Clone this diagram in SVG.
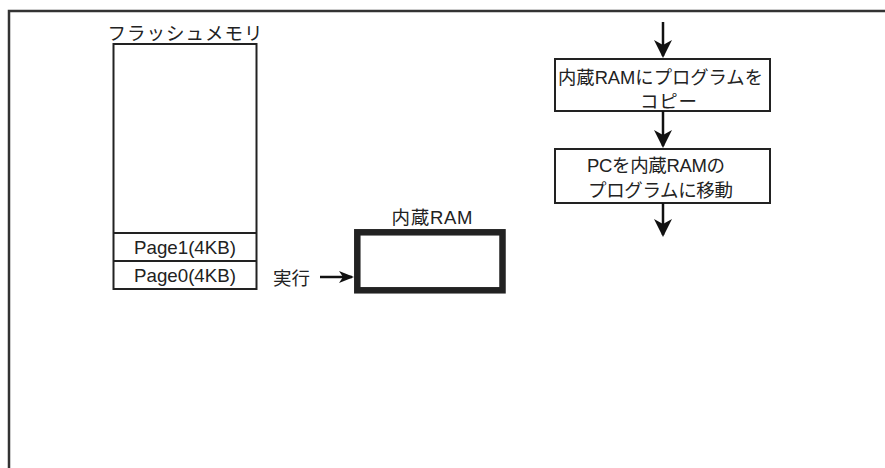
<svg xmlns="http://www.w3.org/2000/svg" width="885" height="468" viewBox="0 0 885 468">
<style>
.t{font-family:"Liberation Sans","Noto Sans CJK JP",sans-serif;font-size:18.5px;fill:#222}
.m{text-anchor:middle}
.box{fill:#fff;stroke:#222;stroke-width:2}
.ln{fill:none;stroke:#111;stroke-width:2.5}
</style>
<defs>
<marker id="ah" markerUnits="userSpaceOnUse" viewBox="0 0 18 18" markerWidth="18" markerHeight="18" refX="16" refY="9" orient="auto">
<path d="M0,0 L18,9 L0,18 L5,9 z" fill="#111"/>
</marker>
<marker id="ahs" markerUnits="userSpaceOnUse" viewBox="0 0 15 12" markerWidth="15" markerHeight="12" refX="13" refY="6" orient="auto">
<path d="M0,0 L15,6 L0,12 L4,6 z" fill="#111"/>
</marker>
</defs>
<rect width="885" height="468" fill="#fff"/>
<path d="M9,468 V11 H885" fill="none" stroke="#333" stroke-width="2.5"/>

<g id="flash">
<text class="t m" x="185" y="40" font-size="19" textLength="155" lengthAdjust="spacing">フラッシュメモリ</text>
<rect class="box" x="113.5" y="44" width="143" height="245"/>
<line x1="113.5" y1="233" x2="256.5" y2="233" stroke="#222" stroke-width="2"/>
<line x1="113.5" y1="261" x2="256.5" y2="261" stroke="#222" stroke-width="2"/>
<text class="t m" x="185" y="254" font-size="19" textLength="102" lengthAdjust="spacingAndGlyphs">Page1(4KB)</text>
<text class="t m" x="185" y="282" font-size="19" textLength="102" lengthAdjust="spacingAndGlyphs">Page0(4KB)</text>
</g>

<g id="ram">
<text class="t m" x="432" y="224" font-size="19" textLength="81" lengthAdjust="spacing">内蔵RAM</text>
<rect x="357.3" y="232.3" width="145.2" height="58" fill="#fff" stroke="#222" stroke-width="6.5"/>
</g>

<g id="exec">
<text class="t" x="273" y="285" font-size="19" textLength="37" lengthAdjust="spacing">実行</text>
</g>

<g id="step1">
<rect class="box" x="555" y="59" width="215" height="52"/>
<text class="t" x="558" y="84" textLength="205" lengthAdjust="spacingAndGlyphs">内蔵RAMにプログラムを</text>
<text class="t" x="640" y="108" textLength="57" lengthAdjust="spacing">コピー</text>
</g>

<g id="step2">
<rect class="box" x="555" y="149" width="215" height="54"/>
<text class="t" x="587" y="172" textLength="138" lengthAdjust="spacing">PCを内蔵RAMの</text>
<text class="t" x="588" y="197" textLength="145" lengthAdjust="spacing">プログラムに移動</text>
</g>

<g id="connectors">
<line class="ln" x1="663" y1="22" x2="663" y2="56" marker-end="url(#ah)"/>
<line class="ln" x1="663" y1="111" x2="663" y2="146" marker-end="url(#ah)"/>
<line class="ln" x1="663" y1="203" x2="663" y2="235" marker-end="url(#ah)"/>
<line class="ln" x1="320" y1="277" x2="352" y2="277" marker-end="url(#ahs)"/>
</g>
</svg>
